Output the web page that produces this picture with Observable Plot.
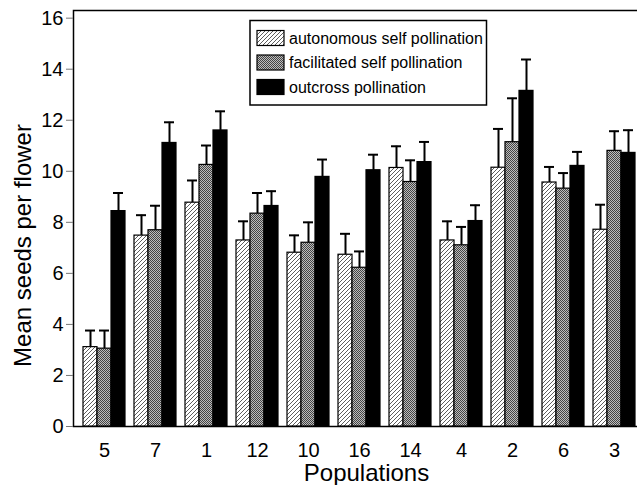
<!DOCTYPE html>
<html>
<head>
<meta charset="utf-8">
<script src="https://cdn.jsdelivr.net/npm/d3@7"></script>
<script src="https://cdn.jsdelivr.net/npm/@observablehq/plot@0.6"></script>
<style>
  html, body { margin: 0; padding: 0; background: #fff; overflow: hidden; }
  #wrap { width: 637px; height: 485px; overflow: hidden; position: relative; }
  #wrap svg { max-width: none !important; display: block; }
</style>
</head>
<body>
<div id="wrap"></div>
<script>
const populations = ["5", "7", "1", "12", "10", "16", "14", "4", "2", "6", "3"];
const treatments = ["autonomous self pollination", "facilitated self pollination", "outcross pollination"];
const autonomousMean  = [3.11, 7.48, 8.77, 7.29, 6.81, 6.73, 10.13, 7.29, 10.14, 9.56, 7.71];
const autonomousSE    = [0.65, 0.80, 0.87, 0.75, 0.68, 0.82, 0.85, 0.75, 1.52, 0.61, 0.98];
const facilitatedMean = [3.05, 7.69, 10.25, 8.34, 7.20, 6.22, 9.58, 7.10, 11.14, 9.32, 10.80];
const facilitatedSE   = [0.71, 0.96, 0.76, 0.81, 0.80, 0.64, 0.85, 0.72, 1.72, 0.61, 0.77];
const outcrossMean    = [8.44, 11.11, 11.60, 8.64, 9.78, 10.04, 10.36, 8.05, 13.15, 10.21, 10.72];
const outcrossSE      = [0.71, 0.81, 0.75, 0.58, 0.68, 0.61, 0.79, 0.62, 1.23, 0.55, 0.89];
const yTicks = [0, 2, 4, 6, 8, 10, 12, 14, 16];
const yLabel = "Mean seeds per flower";
const xLabel = "Populations";

const fills = ["url(#hatch)", "url(#dots)", "black"];
const table = (means, ses, t) => populations.map((p, i) => ({population: p, treatment: t, mean: means[i], se: ses[i]}));
const series = [
  table(autonomousMean, autonomousSE, treatments[0]),
  table(facilitatedMean, facilitatedSE, treatments[1]),
  table(outcrossMean, outcrossSE, treatments[2])
];
const BW = 14;

const marks = [Plot.frame({stroke: "black", strokeWidth: 1.5})];
series.forEach((s, k) => {
  const dx = (k - 1) * BW;
  marks.push(Plot.ruleX(s, {x: "population", y1: "mean", y2: d => d.mean + d.se, dx, stroke: "black", strokeWidth: 2}));
  marks.push(Plot.tickY(s, {x: "population", y: d => d.mean + d.se, dx, insetLeft: 2, insetRight: 2, stroke: "black", strokeWidth: 2}));
  marks.push(Plot.barY(s, {x: "population", y: "mean", dx, fill: fills[k], stroke: "black", strokeWidth: 1.2}));
});
marks.push(Plot.axisY({ticks: yTicks, tickSize: 7, tickPadding: 3, fontSize: 20, label: null, stroke: "#777"}));
marks.push(Plot.axisX({tickSize: 0, tickPadding: 16, fontSize: 20, label: null}));
marks.push(Plot.text([yLabel], {text: d => d, frameAnchor: "left", textAnchor: "middle", lineAnchor: "middle", rotate: -90, dx: -50, dy: 27, fontSize: 24}));
marks.push(Plot.text([xLabel], {text: d => d, frameAnchor: "bottom", textAnchor: "middle", lineAnchor: "middle", dx: 7, dy: 47, fontSize: 24}));

const svg = Plot.plot({
  width: 645, height: 485,
  marginTop: 10, marginBottom: 59, marginLeft: 73, marginRight: 0,
  style: {fontFamily: "'Liberation Sans', Arial, sans-serif", fontSize: "20px", color: "black", background: "white", maxWidth: "none"},
  x: {domain: populations, range: [76, 642.5], paddingInner: 1 - BW / 51.5, paddingOuter: (1 - BW / 51.5) / 2},
  y: {domain: [0, 16.3]},
  marks
});

// patterns
const ns = "http://www.w3.org/2000/svg";
const defs = document.createElementNS(ns, "defs");
defs.innerHTML = `
<pattern id="hatch" patternUnits="userSpaceOnUse" width="4" height="4">
  <rect width="4" height="4" fill="white"/>
  <path d="M-1,1 L1,-1 M0,4 L4,0 M3,5 L5,3" stroke="#333" stroke-width="0.8"/>
</pattern>
<pattern id="dots" patternUnits="userSpaceOnUse" width="2" height="2">
  <rect width="2" height="2" fill="#bdbdbd"/>
  <rect width="1" height="1" fill="#444"/>
  <rect x="1" y="1" width="1" height="1" fill="#444"/>
</pattern>`;
svg.insertBefore(defs, svg.firstChild);

// legend (inside plot area)
const lg = d3.select(svg).append("g").attr("font-size", 16).attr("text-anchor", "start");
lg.append("rect").attr("x", 250).attr("y", 20.5).attr("width", 236.5).attr("height", 84.5)
  .attr("fill", "white").attr("stroke", "black").attr("stroke-width", 1.5);
treatments.forEach((t, k) => {
  const cy = 38 + k * 24.5;
  lg.append("rect").attr("x", 257).attr("y", cy - 7.5).attr("width", 27).attr("height", 15)
    .attr("fill", fills[k]).attr("stroke", "black").attr("stroke-width", 1.2);
  lg.append("text").attr("x", 289).attr("y", cy).attr("dy", "0.35em").attr("text-anchor", "start").text(t);
});

document.getElementById("wrap").appendChild(svg);
</script>
</body>
</html>
